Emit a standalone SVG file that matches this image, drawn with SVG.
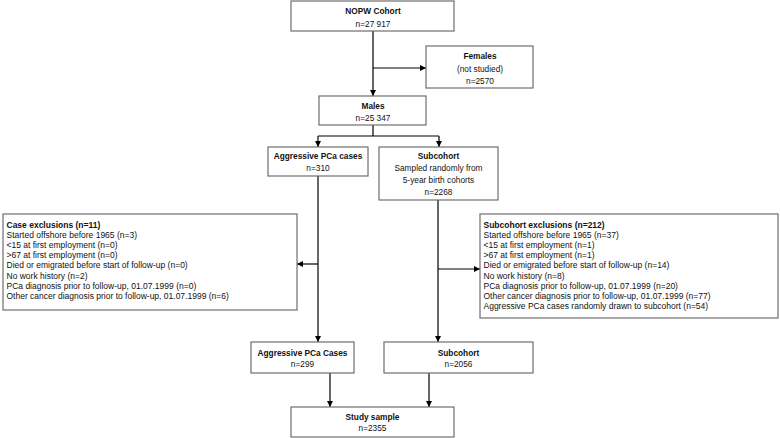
<svg xmlns="http://www.w3.org/2000/svg" width="780" height="438" viewBox="0 0 780 438">
<defs>
<marker id="ah" viewBox="0 0 10 10" refX="10" refY="5" markerWidth="6" markerHeight="6" markerUnits="userSpaceOnUse" orient="auto">
<path d="M0,0 L10,5 L0,10 Z" fill="#000"/>
</marker>
<style>
.box{fill:#fff;stroke:#6e6e6e;stroke-width:1.2}
.t{font-family:"Liberation Sans",Arial,sans-serif;font-size:8.3px;fill:#111}
.l{font-size:8.5px}
.c{text-anchor:middle}
.b{font-weight:bold}
.ln{fill:none;stroke:#000;stroke-width:1.2}
.ar{marker-end:url(#ah)}
</style>
</defs>
<rect width="780" height="438" fill="#fff"/>
<g id="connectors">
<path class="ln ar" d="M373,31 V96"/>
<path class="ln ar" d="M373,68 H426"/>
<path class="ln" d="M373,125 V136 M318,136 H439"/>
<path class="ln ar" d="M318,136 V147"/>
<path class="ln ar" d="M439,136 V147"/>
<path class="ln ar" d="M318,176 V342"/>
<path class="ln ar" d="M318,264 H297"/>
<path class="ln ar" d="M438,200 V342"/>
<path class="ln ar" d="M438,269 H480"/>
<path class="ln ar" d="M330,373 V407"/>
<path class="ln ar" d="M429,373 V407"/>
</g>
<g id="nopw">
<rect class="box" x="291" y="1" width="163" height="30"/>
<text class="t c b" x="373" y="14">NOPW Cohort</text>
<text class="t c" x="373" y="27">n=27 917</text>
</g>
<g id="females">
<rect class="box" x="426" y="46" width="107" height="42"/>
<text class="t c b" x="480" y="59">Females</text>
<text class="t c" x="480" y="71.5">(not studied)</text>
<text class="t c" x="480" y="83.5">n=2570</text>
</g>
<g id="males">
<rect class="box" x="319" y="96" width="107" height="29"/>
<text class="t c b" x="373" y="108.5">Males</text>
<text class="t c" x="373" y="120.5">n=25 347</text>
</g>
<g id="cases1">
<rect class="box" x="268" y="147" width="100" height="29"/>
<text class="t c b" x="318" y="158.5">Aggressive PCa cases</text>
<text class="t c" x="318" y="170.5">n=310</text>
</g>
<g id="subcohort1">
<rect class="box" x="379" y="147" width="119" height="53"/>
<text class="t c b" x="438.5" y="158.5">Subcohort</text>
<text class="t c" x="438.5" y="170.5">Sampled randomly from</text>
<text class="t c" x="438.5" y="182.5">5-year birth cohorts</text>
<text class="t c" x="438.5" y="194.5">n=2268</text>
</g>
<g id="caseexcl">
<rect class="box" x="3" y="214" width="294" height="96"/>
<text class="t l" x="6.5" y="227.5"><tspan class="b">Case exclusions (n=11)</tspan>
<tspan x="6.5" dy="10.2">Started offshore before 1965 (n=3)</tspan>
<tspan x="6.5" dy="10.2">&lt;15 at first employment (n=0)</tspan>
<tspan x="6.5" dy="10.2">&gt;67 at first employment (n=0)</tspan>
<tspan x="6.5" dy="10.2">Died or emigrated before start of follow-up (n=0)</tspan>
<tspan x="6.5" dy="10.2">No work history (n=2)</tspan>
<tspan x="6.5" dy="10.2">PCa diagnosis prior to follow-up, 01.07.1999 (n=0)</tspan>
<tspan x="6.5" dy="10.2">Other cancer diagnosis prior to follow-up, 01.07.1999 (n=6)</tspan></text>
</g>
<g id="subexcl">
<rect class="box" x="480" y="214" width="298" height="104"/>
<text class="t l" x="483.5" y="227.5"><tspan class="b">Subcohort exclusions (n=212)</tspan>
<tspan x="483.5" dy="10.2">Started offshore before 1965 (n=37)</tspan>
<tspan x="483.5" dy="10.2">&lt;15 at first employment (n=1)</tspan>
<tspan x="483.5" dy="10.2">&gt;67 at first employment (n=1)</tspan>
<tspan x="483.5" dy="10.2">Died or emigrated before start of follow-up (n=14)</tspan>
<tspan x="483.5" dy="10.2">No work history (n=8)</tspan>
<tspan x="483.5" dy="10.2">PCa diagnosis prior to follow-up, 01.07.1999 (n=20)</tspan>
<tspan x="483.5" dy="10.2">Other cancer diagnosis prior to follow-up, 01.07.1999 (n=77)</tspan>
<tspan x="483.5" dy="10.2">Aggressive PCa cases randomly drawn to subcohort (n=54)</tspan></text>
</g>
<g id="cases2">
<rect class="box" x="251" y="342" width="103" height="31"/>
<text class="t c b" x="302.5" y="355.5">Aggressive PCa Cases</text>
<text class="t c" x="302.5" y="367">n=299</text>
</g>
<g id="subcohort2">
<rect class="box" x="384" y="342" width="149" height="31"/>
<text class="t c b" x="458.5" y="355.5">Subcohort</text>
<text class="t c" x="458.5" y="367">n=2056</text>
</g>
<g id="study">
<rect class="box" x="291" y="407" width="163" height="30"/>
<text class="t c b" x="372.5" y="419.5">Study sample</text>
<text class="t c" x="372.5" y="430.5">n=2355</text>
</g>
</svg>
